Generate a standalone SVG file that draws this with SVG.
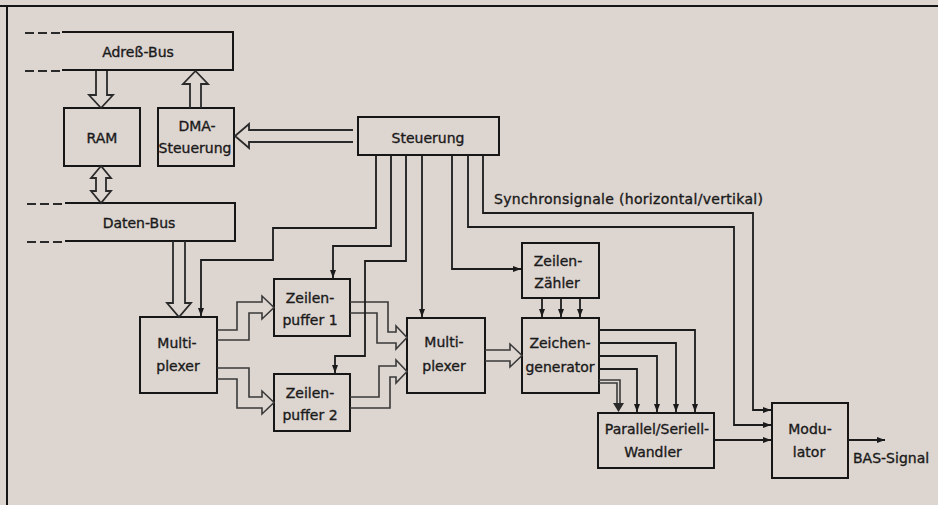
<svg xmlns="http://www.w3.org/2000/svg" width="938" height="505" viewBox="0 0 938 505">
<defs>
<marker id="ah" markerWidth="9" markerHeight="7" refX="8" refY="3.5" orient="auto" markerUnits="userSpaceOnUse">
<path d="M0,0.5 L8,3.5 L0,6.5 Z" fill="#1a1a1a"/>
</marker>
</defs>
<style>
.bg{fill:#ddd5d0}
.box{fill:none;stroke:#161616;stroke-width:2}
.ln{fill:none;stroke:#1c1c1c;stroke-width:1.8}
.hl{fill:none;stroke:#2a2a2a;stroke-width:1.8;stroke-linejoin:miter}
.band{fill:none;stroke:#3a3a3a;stroke-width:1.6}
.dash{fill:none;stroke:#2a2a2a;stroke-width:2;stroke-dasharray:9 4}
.t{font-family:"DejaVu Sans","Liberation Sans",sans-serif;font-size:14px;fill:#1a1a1a;stroke:#1a1a1a;stroke-width:0.35;text-anchor:middle}
.ts{font-family:"DejaVu Sans","Liberation Sans",sans-serif;font-size:14px;fill:#1a1a1a;stroke:#1a1a1a;stroke-width:0.35}
</style>
<rect class="bg" x="0" y="0" width="938" height="505"/>
<path class="box" d="M0,6 H938 M7,6 V505"/>

<g id="adress-bus">
<path class="box" d="M62,32 H233 V70 H62"/>
<path class="dash" d="M25,33 H62 M25,71 H62"/>
<text class="t" x="138" y="57">Adreß-Bus</text>
</g>
<g id="daten-bus">
<path class="box" d="M65,203 H235 V241 H65"/>
<path class="dash" d="M27,204 H65 M27,242 H65"/>
<text class="t" x="139" y="228">Daten-Bus</text>
</g>
<g id="ram">
<rect class="box" x="64" y="108" width="76" height="58"/>
<text class="t" x="102" y="143">RAM</text>
</g>
<g id="dma">
<rect class="box" x="158" y="108" width="76" height="58"/>
<text class="t" x="197" y="131">DMA-</text>
<text class="t" x="195" y="153">Steuerung</text>
</g>
<g id="steuerung">
<rect class="box" x="358" y="117" width="141" height="38"/>
<text class="t" x="428" y="143">Steuerung</text>
</g>
<g id="mux1">
<rect class="box" x="140" y="317" width="77" height="76"/>
<text class="t" x="177" y="348">Multi-</text>
<text class="t" x="178" y="371">plexer</text>
</g>
<g id="zeilenpuffer1">
<rect class="box" x="274" y="279" width="76" height="57"/>
<text class="t" x="310" y="303">Zeilen-</text>
<text class="t" x="310" y="325">puffer 1</text>
</g>
<g id="zeilenpuffer2">
<rect class="box" x="274" y="374" width="76" height="57"/>
<text class="t" x="310" y="398">Zeilen-</text>
<text class="t" x="310" y="420">puffer 2</text>
</g>
<g id="mux2">
<rect class="box" x="407" y="318" width="78" height="75"/>
<text class="t" x="444" y="347">Multi-</text>
<text class="t" x="444" y="371">plexer</text>
</g>
<g id="zeilenzaehler">
<rect class="box" x="522" y="243" width="77" height="55"/>
<text class="t" x="558" y="266">Zeilen-</text>
<text class="t" x="557" y="288">Zähler</text>
</g>
<g id="zeichengenerator">
<rect class="box" x="522" y="318" width="77" height="75"/>
<text class="t" x="560" y="348">Zeichen-</text>
<text class="t" x="560" y="372">generator</text>
</g>
<g id="wandler">
<rect class="box" x="598" y="413" width="116" height="55"/>
<text class="t" x="657" y="434">Parallel/Seriell-</text>
<text class="t" x="653" y="457">Wandler</text>
</g>
<g id="modulator">
<rect class="box" x="772" y="403" width="76" height="75"/>
<text class="t" x="810" y="434">Modu-</text>
<text class="t" x="809" y="457">lator</text>
</g>
<g id="labels">
<text class="ts" x="494" y="204" textLength="269">Synchronsignale (horizontal/vertikal)</text>
<text class="ts" x="853" y="463">BAS-Signal</text>
</g>

<g id="connectors">
<path class="hl" d="M96,71 V95 H89 L101,108 L113,95 H107 V71"/>
<path class="hl" d="M190,108 V84 H183 L195.5,71 L208,84 H201 V108"/>
<path class="hl" d="M353,130 H249 V124 L235,136 L249,148 V142 H353"/>
<path class="hl" d="M101,166 L91,178 H96 V191 H91 L101,203 L111,191 H106 V178 H111 Z"/>
<path class="hl" d="M173,241 V303 H167 L179,317 L191,303 H185 V241"/>
<path class="band" d="M217,330 H237 V302 H262 V296 L274,307.5 L262,319 V313 H249 V340 H217"/>
<path class="band" d="M217,368 H249 V397 H262 V391 L274,402.5 L262,414 V408 H237 V379 H217"/>
<path class="band" d="M350,302 H388 V332 H396 V326 L407,337.5 L396,349 V343 H377 V313 H350"/>
<path class="band" d="M350,397 H379 V366 H396 V360 L407,371.5 L396,383 V377 H390 V408 H350"/>
<path class="band" d="M485,350 H510 V344 L522,355.5 L510,367 V361 H485"/>
<path class="ln" marker-end="url(#ah)" d="M376,155 V228 H273 V260 H201 V316"/>
<path class="ln" marker-end="url(#ah)" d="M391,155 V246 H333 V278"/>
<path class="ln" marker-end="url(#ah)" d="M406,155 V261 H365 V356 H335 V373"/>
<path class="ln" marker-end="url(#ah)" d="M422,155 V317"/>
<path class="ln" marker-end="url(#ah)" d="M452,155 V269 H521"/>
<path class="ln" marker-end="url(#ah)" d="M468,155 V227 H734 V425 H771"/>
<path class="ln" marker-end="url(#ah)" d="M483,155 V213 H753 V410 H771"/>
<path class="ln" marker-end="url(#ah)" d="M542,298 V317"/>
<path class="ln" marker-end="url(#ah)" d="M561,298 V317"/>
<path class="ln" marker-end="url(#ah)" d="M580,298 V317"/>
<path class="ln" marker-end="url(#ah)" d="M599,330 H695 V412"/>
<path class="ln" marker-end="url(#ah)" d="M599,343 H676 V412"/>
<path class="ln" marker-end="url(#ah)" d="M599,356 H657 V412"/>
<path class="ln" marker-end="url(#ah)" d="M599,369 H637 V412"/>
<path class="band" d="M599,380 H620 V404 M599,383 H617 V404"/>
<path d="M613,403 L618.5,412 L624,403 Z" fill="#2a2a2a"/>
<path class="ln" marker-end="url(#ah)" d="M714,440 H771"/>
<path class="ln" marker-end="url(#ah)" d="M848,440 H885"/>
</g>
</svg>
